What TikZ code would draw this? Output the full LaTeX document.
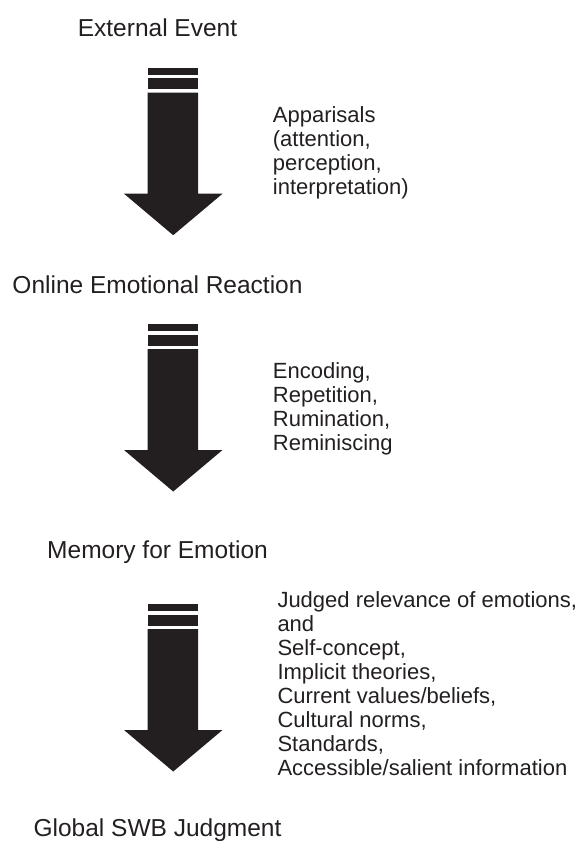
\documentclass[tikz,border=0pt]{standalone}
\usepackage{fontspec}
\setmainfont{Liberation Sans}
\usepackage{tikz}
\definecolor{ink}{HTML}{231F20}

\begin{document}
\begin{tikzpicture}[x=1pt,y=-1pt]
   \tikzstyle{stage}=[anchor=base, inner sep=0pt, text=ink, font=\fontsize{24.5}{29}\selectfont]
   \tikzstyle{proc}=[anchor=north west, inner sep=0pt, align=left, text=ink, font=\fontsize{22}{24}\selectfont]
   \useasboundingbox (0,0) rectangle (576,841);
   %% stages
\node[stage] (ext) at (157.5,36.7) {External Event};
\node[stage] (online) at (157.5,293.3) {Online Emotional Reaction};
\node[stage] (memory) at (157.5,558.3) {Memory for Emotion};
\node[stage] (global) at (157.5,836) {Global SWB Judgment};
   %% processes
\node[proc] (appr) at (272.7,106.5) {Apparisals\\(attention,\\perception,\\interpretation)};
\node[proc] (enc) at (272.7,362) {Encoding,\\Repetition,\\Rumination,\\Reminiscing};
\node[proc] (judg) at (277.3,591.5) {Judged relevance of emotions,\\and\\Self-concept,\\Implicit theories,\\Current values/beliefs,\\Cultural norms,\\Standards,\\Accessible/salient information};
   %% arrows
\foreach \y in {67.7,324,604} {
 \fill[ink] (147.5,\y) rectangle (198,\y+7);
 \fill[ink] (147.5,\y+10.5) rectangle (198,\y+21.5);
 \fill[ink] (147.5,\y+25) -- (198,\y+25) -- (198,\y+126) -- (222.5,\y+126)
   -- (173.2,\y+167.5) -- (124,\y+126) -- (147.5,\y+126) -- cycle;
}
\end{tikzpicture}
\end{document}
